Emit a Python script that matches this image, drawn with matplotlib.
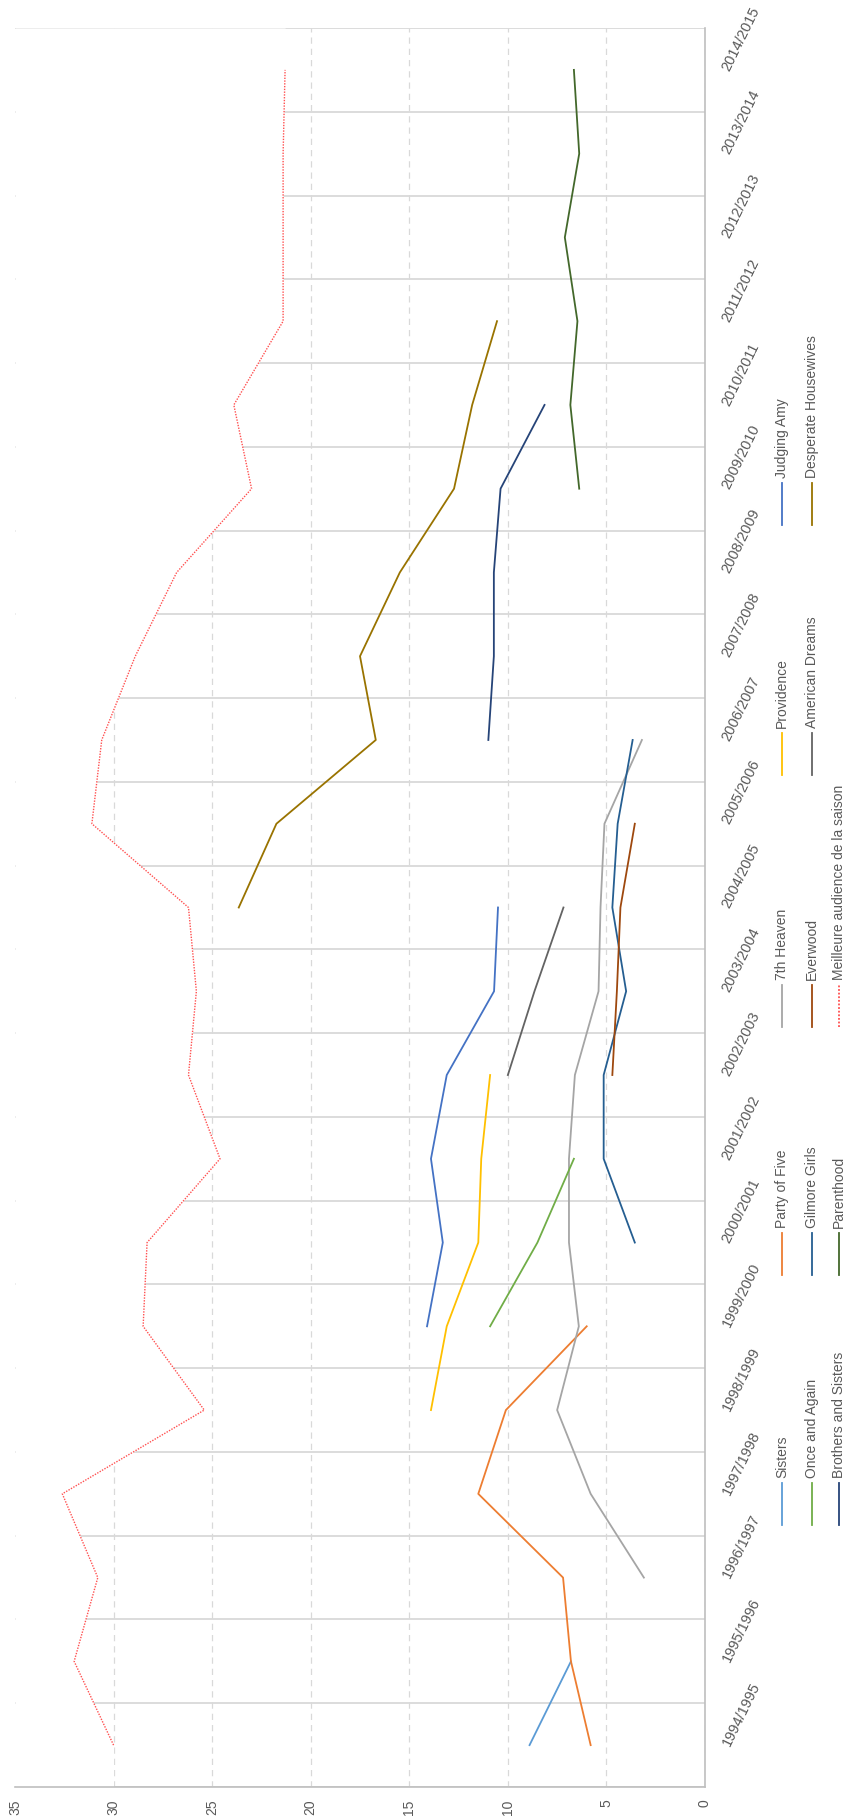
import numpy as np
import matplotlib
matplotlib.use("Agg")
import matplotlib.pyplot as plt
from matplotlib.lines import Line2D

plt.rcParams["font.family"] = ["Liberation Sans", "DejaVu Sans"]

# audiences (millions of viewers) per season, None = not on air
seasons = [
    "1994/1995", "1995/1996", "1996/1997", "1997/1998", "1998/1999",
    "1999/2000", "2000/2001", "2001/2002", "2002/2003", "2003/2004",
    "2004/2005", "2005/2006", "2006/2007", "2007/2008", "2008/2009",
    "2009/2010", "2010/2011", "2011/2012", "2012/2013", "2013/2014",
    "2014/2015",
]
N = None
sisters = [8.9, 6.8, N, N, N, N, N, N, N, N, N, N, N, N, N, N, N, N, N, N, N]
party_of_five = [5.8, 6.8, 7.2, 11.5, 10.1, 6.0, N, N, N, N, N, N, N, N, N, N, N, N, N, N, N]
seventh_heaven = [N, N, 3.1, 5.8, 7.5, 6.4, 6.9, 6.9, 6.6, 5.4, 5.3, 5.1, 3.2, N, N, N, N, N, N, N, N]
providence = [N, N, N, N, 13.9, 13.1, 11.5, 11.35, 10.9, N, N, N, N, N, N, N, N, N, N, N, N]
judging_amy = [N, N, N, N, N, 14.1, 13.3, 13.9, 13.1, 10.7, 10.5, N, N, N, N, N, N, N, N, N, N]
once_and_again = [N, N, N, N, N, 10.9, 8.5, 6.65, N, N, N, N, N, N, N, N, N, N, N, N, N]
gilmore_girls = [N, N, N, N, N, N, 3.56, 5.14, 5.14, 4.0, 4.7, 4.43, 3.67, N, N, N, N, N, N, N, N]
everwood = [N, N, N, N, N, N, N, N, 4.7, 4.47, 4.29, 3.56, N, N, N, N, N, N, N, N, N]
american_dreams = [N, N, N, N, N, N, N, N, 10.0, 8.65, 7.18, N, N, N, N, N, N, N, N, N, N]
desperate_housewives = [N, N, N, N, N, N, N, N, N, N, 23.65, 21.74, 16.7, 17.5, 15.48, 12.73, 11.81, 10.55, N, N, N]
brothers_and_sisters = [N, N, N, N, N, N, N, N, N, N, N, N, 10.99, 10.71, 10.71, 10.37, 8.14, N, N, N, N]
parenthood = [N, N, N, N, N, N, N, N, N, N, N, N, N, N, N, 6.38, 6.83, 6.47, 7.11, 6.38, 6.65]
best_audience = [30.0, 32.0, 30.8, 32.6, 25.4, 28.5, 28.3, 24.6, 26.2, 25.8, 26.2,
                 31.1, 30.6, 28.9, 26.8, 23.0, 23.9, 21.4, 21.4, 21.4, 21.3]

value_ticks = [0, 5, 10, 15, 20, 25, 30, 35]

# legend order (Excel fills row by row, 5 per row)
series = [
    ("Sisters", sisters, "#5B9BD5"),
    ("Party of Five", party_of_five, "#ED7D31"),
    ("7th Heaven", seventh_heaven, "#A5A5A5"),
    ("Providence", providence, "#FFC000"),
    ("Judging Amy", judging_amy, "#4472C4"),
    ("Once and Again", once_and_again, "#70AD47"),
    ("Gilmore Girls", gilmore_girls, "#255E91"),
    ("Everwood", everwood, "#9E480E"),
    ("American Dreams", american_dreams, "#636363"),
    ("Desperate Housewives", desperate_housewives, "#997300"),
    ("Brothers and Sisters", brothers_and_sisters, "#264478"),
    ("Parenthood", parenthood, "#43682B"),
    ("Meilleure audience de la saison", best_audience, "#FF5050"),
]

W, H = 853, 1820
TEXT = "#595959"
GRID = "#D9D9D9"

fig = plt.figure(figsize=(W / 100, H / 100), dpi=100)
# chart is drawn turned a quarter turn: seasons run upward, values leftward
ax = fig.add_axes([15 / W, 1 - 1787 / H, 690 / W, 1759 / H])
ax.set_xlim(35, 0)
ax.set_ylim(-0.5, len(seasons) - 0.5)

idx = np.arange(len(seasons))

def arr(vals):
    return np.array([np.nan if v is None else v for v in vals], dtype=float)

# grid
ax.set_axisbelow(True)
ax.set_xticks(value_ticks)
ax.set_xticklabels([str(v) for v in value_ticks])
ax.grid(axis="x", which="major", color=GRID, linestyle=(0, (5, 4)), linewidth=0.9)
ax.get_xgridlines()[-1].set_visible(False)  # no line on the 35 edge
ax.set_yticks(np.arange(-0.5, len(seasons), 1.0), minor=True)
ax.grid(axis="y", which="minor", color=GRID, linestyle="-", linewidth=1.3)

# the area left of the best-audience line hides the grid (white area series)
best = arr(best_audience)
fy = np.concatenate([[-0.5], idx, [len(seasons) - 0.5]])
fx = np.concatenate([[best[0]], best, [best[-1]]])
ax.fill_betweenx(fy, 35, fx, color="white", zorder=1, linewidth=0)

for name, vals, color in series:
    if name.startswith("Meilleure"):
        ax.plot(arr(vals), idx, color=color, linestyle=(0, (1, 1)), linewidth=1.0, zorder=3)
    else:
        ax.plot(arr(vals), idx, color=color, linewidth=1.3, zorder=3)

for side in ["left", "top"]:
    ax.spines[side].set_visible(False)
for side in ["right", "bottom"]:
    ax.spines[side].set_color("#BFBFBF")
    ax.spines[side].set_linewidth(1.2)

ax.tick_params(axis="x", which="both", length=0, pad=9, labelsize=10,
               labelcolor=TEXT, labelrotation=90)
ax.yaxis.tick_right()
ax.set_yticks(idx)
ax.set_yticklabels(seasons)
ax.tick_params(axis="y", which="both", length=0, pad=15, labelsize=10.5, labelcolor=TEXT)
plt.setp(ax.get_yticklabels(), rotation=64, rotation_mode="anchor", ha="left", va="center")

# legend, drawn turned like the chart
col_x = [782, 812, 839]
row_y = [1525, 1275, 1027, 775, 525]
for k, (name, vals, color) in enumerate(series):
    x = col_x[k // 5] / W
    y0 = 1 - row_y[k % 5] / H
    y1 = 1 - (row_y[k % 5] - 42) / H
    ls = (0, (1, 1)) if name.startswith("Meilleure") else "-"
    fig.add_artist(Line2D([x, x], [y0, y1], color=color, linewidth=1.3,
                          linestyle=ls, transform=fig.transFigure))
    fig.text(x, 1 - (row_y[k % 5] - 47) / H, name, rotation=90,
             rotation_mode="anchor", ha="left", va="center",
             fontsize=10, color=TEXT)

fig.savefig("out.png", dpi=100)
